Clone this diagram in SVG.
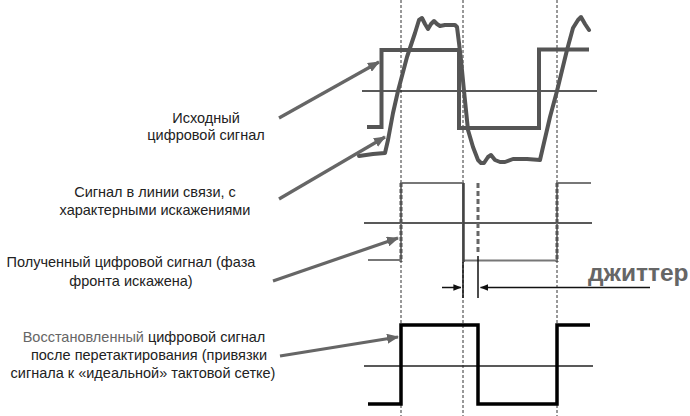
<svg xmlns="http://www.w3.org/2000/svg" width="690" height="416" viewBox="0 0 690 416">
<defs>
<marker id="ah" viewBox="0 0 12 10" refX="11" refY="5" markerWidth="12" markerHeight="10" markerUnits="userSpaceOnUse" orient="auto">
<path d="M0,0 L12,5 L0,10 z" fill="#666"/>
</marker>
<marker id="bh" viewBox="0 0 10 8" refX="9.5" refY="4" markerWidth="8" markerHeight="7" markerUnits="userSpaceOnUse" orient="auto">
<path d="M0,0 L10,4 L0,8 z" fill="#111"/>
</marker>
<style>
.lbl{font-family:"Liberation Sans",Arial,sans-serif;font-size:14.5px;fill:#222;text-anchor:middle}
.grid{stroke:#333;stroke-width:1;stroke-dasharray:3,2;fill:none}
.thr{stroke:#222;stroke-width:1.3;fill:none}
.arr{stroke:#666;stroke-width:3.2;fill:none;marker-end:url(#ah)}
</style>
</defs>
<rect width="690" height="416" fill="#fff"/>
<g id="grid">
<line class="grid" x1="401" y1="0" x2="401" y2="416"/>
<line class="grid" x1="463" y1="0" x2="463" y2="416"/>
<line class="grid" x1="557" y1="0" x2="557" y2="416"/>
</g>
<g id="signal-original">
<line class="thr" x1="362" y1="91" x2="597" y2="91"/>
<path d="M367,127 H381.5 V50 H459 V128 H539 V49.5 H589" fill="none" stroke="#555" stroke-width="4"/>
<path d="M359,156 L373,154 L385,153 L388,140 L393,113 L398,91 L407,57 L415,33 L419,20 L422,18 L425,24 L428,29 L431,24 L434,21 L437,24 L440,26 L445,25 L450,25 L455,25 L457,27 L459,43 L461,60 L464,91 L468,130 L473,147 L478,160 L481,163 L484,163 L488,157 L491,155 L495,160 L500,162 L505,162 L513,159 L527,159 L540,160 L543,147 L550,117 L557,91 L567,50 L573,28 L578,20 L581,17 L585,24 L589,30" fill="none" stroke="#555" stroke-width="4" stroke-linejoin="round" stroke-linecap="round"/>
</g>
<g id="signal-line">
<line class="thr" x1="364" y1="223" x2="592" y2="223"/>
<path d="M368,260 H401 V183 H463 V260.5 H557 V183 H591" fill="none" stroke="#777" stroke-width="2"/>
<line x1="401" y1="183" x2="401" y2="262" stroke="#555" stroke-width="3" stroke-dasharray="4,2"/>
<line x1="463.5" y1="183" x2="463.5" y2="262" stroke="#444" stroke-width="2.5"/>
<line x1="557" y1="183" x2="557" y2="262" stroke="#555" stroke-width="3" stroke-dasharray="4,2"/>
<line x1="478" y1="183" x2="478" y2="254" stroke="#666" stroke-width="3" stroke-dasharray="5,3"/>
</g>
<g id="signal-restored">
<line class="thr" x1="364" y1="366" x2="593" y2="366"/>
<path d="M368,404 H401 V325 H478 V404 H557 V325 H590" fill="none" stroke="#000" stroke-width="3.5"/>
</g>
<g id="jitter">
<line x1="463" y1="262" x2="463" y2="298" stroke="#111" stroke-width="1.5"/>
<line x1="478" y1="256" x2="478" y2="298" stroke="#111" stroke-width="1.5"/>
<line x1="442" y1="287.5" x2="461" y2="287.5" stroke="#111" stroke-width="1.5" marker-end="url(#bh)"/>
<line x1="650" y1="287.5" x2="480.5" y2="287.5" stroke="#111" stroke-width="1.5" marker-end="url(#bh)"/>
<text x="588" y="281" font-family="'Liberation Sans',Arial,sans-serif" font-size="24.5" font-weight="bold" fill="#666">джиттер</text>
</g>
<g id="label-original">
<text class="lbl" x="206" y="123">Исходный</text>
<text class="lbl" x="206" y="140">цифровой сигнал</text>
</g>
<g id="label-line">
<text class="lbl" x="155" y="197">Сигнал в линии связи, с</text>
<text class="lbl" x="155" y="215">характерными искажениями</text>
</g>
<g id="label-received">
<text class="lbl" x="131" y="267">Полученный цифровой сигнал (фаза</text>
<text class="lbl" x="131" y="286">фронта искажена)</text>
</g>
<g id="label-restored">
<text class="lbl" x="144" y="342"><tspan fill="#666">Восстановленный</tspan> цифровой сигнал</text>
<text class="lbl" x="149" y="360">после перетактирования (привязки</text>
<text class="lbl" x="143" y="378">сигнала к «идеальной» тактовой сетке)</text>
</g>
<g id="connectors">
<line class="arr" x1="279" y1="118" x2="379" y2="62"/>
<line class="arr" x1="279" y1="199" x2="385" y2="137"/>
<line class="arr" x1="273" y1="281" x2="398" y2="238"/>
<line class="arr" x1="280" y1="356" x2="398" y2="337"/>
</g>
</svg>
